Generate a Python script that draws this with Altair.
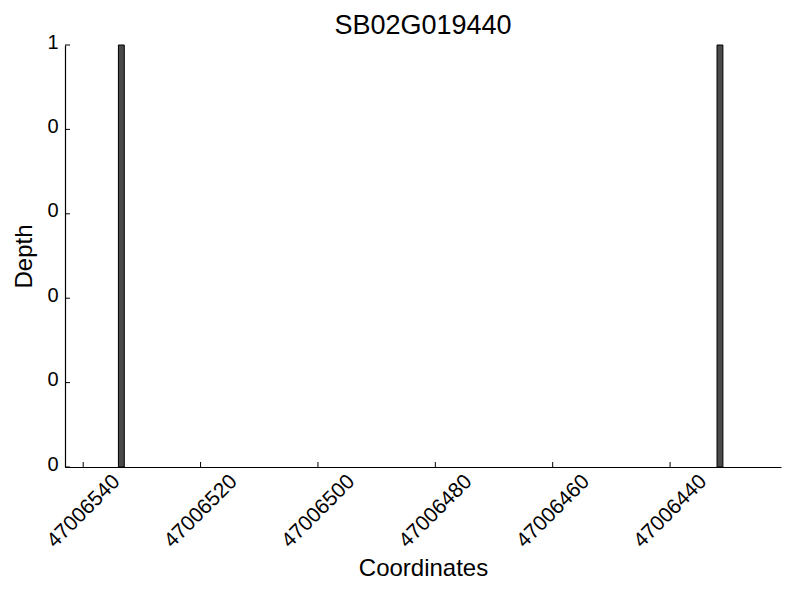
import altair as alt
import pandas as pd

# data
bar_start = [47006533, 47006431]
bar_end = [47006534, 47006432]
depth = [1, 1]
x_ticks = [47006540, 47006520, 47006500, 47006480, 47006460, 47006440]
y_ticks = [0, 0.2, 0.4, 0.6, 0.8, 1.0]
x_domain = [47006421.1, 47006543.1]
title = "SB02G019440"

W, H = 716, 422
FONT = "Liberation Sans"

bars_df = pd.DataFrame({"start": bar_start, "end": bar_end, "depth": depth})
xt_df = pd.DataFrame({"t": x_ticks})
yt_df = pd.DataFrame({"t": y_ticks})

xscale = alt.Scale(domain=x_domain, reverse=True, nice=False, zero=False)
yscale = alt.Scale(domain=[0, 1], nice=False)

xaxis = alt.Axis(
    values=x_ticks, format="d", ticks=False, grid=False,
    labelAngle=-45, labelAlign="center", labelBaseline="middle",
    labelPadding=44, labelFontSize=21, labelFont=FONT, labelColor="black",
    title="Coordinates", titleFontSize=24, titleFont=FONT, titleFontWeight="normal",
    titleColor="black", titlePadding=5,
    domainColor="black", domainWidth=1.2, labelOverlap=False, labelFlush=False,
)
yaxis = alt.Axis(
    values=y_ticks, labelExpr="'' + floor(datum.value)", ticks=False, grid=False,
    labelPadding=7, labelFontSize=20, labelFont=FONT, labelColor="black",
    labelOffset=-3,
    title="Depth", titleFontSize=24, titleFont=FONT, titleFontWeight="normal",
    titleColor="black", titlePadding=10,
    domainColor="black", domainWidth=1.2, labelOverlap=False, labelFlush=False,
)

bars = alt.Chart(bars_df).mark_rect(
    fill="#4a4a4a", stroke="black", strokeWidth=1
).encode(
    x=alt.X("start:Q", scale=xscale, axis=xaxis),
    x2="end:Q",
    y=alt.Y("depth:Q", scale=yscale, axis=yaxis),
    y2=alt.datum(0),
)

xticks = alt.Chart(xt_df).mark_rule(color="black", strokeWidth=1).encode(
    x=alt.X("t:Q", scale=xscale, axis=xaxis),
    y=alt.value(H),
    y2=alt.value(H - 5),
)
yticks = alt.Chart(yt_df).mark_rule(color="black", strokeWidth=1).encode(
    y=alt.Y("t:Q", scale=yscale, axis=yaxis),
    x=alt.value(0),
    x2=alt.value(5),
)

chart = alt.layer(bars, xticks, yticks).properties(
    width=W, height=H,
    background="white",
    title=alt.TitleParams(title, fontSize=27, font=FONT, fontWeight="normal",
                          color="black", anchor="middle", offset=6, dy=14),
    autosize=alt.AutoSizeParams(type="none"),
    padding={"left": 57, "top": 37, "right": 3, "bottom": 125},
).configure_view(strokeWidth=0)

chart.save("out.html", embed_options={"renderer": "svg", "actions": False})
